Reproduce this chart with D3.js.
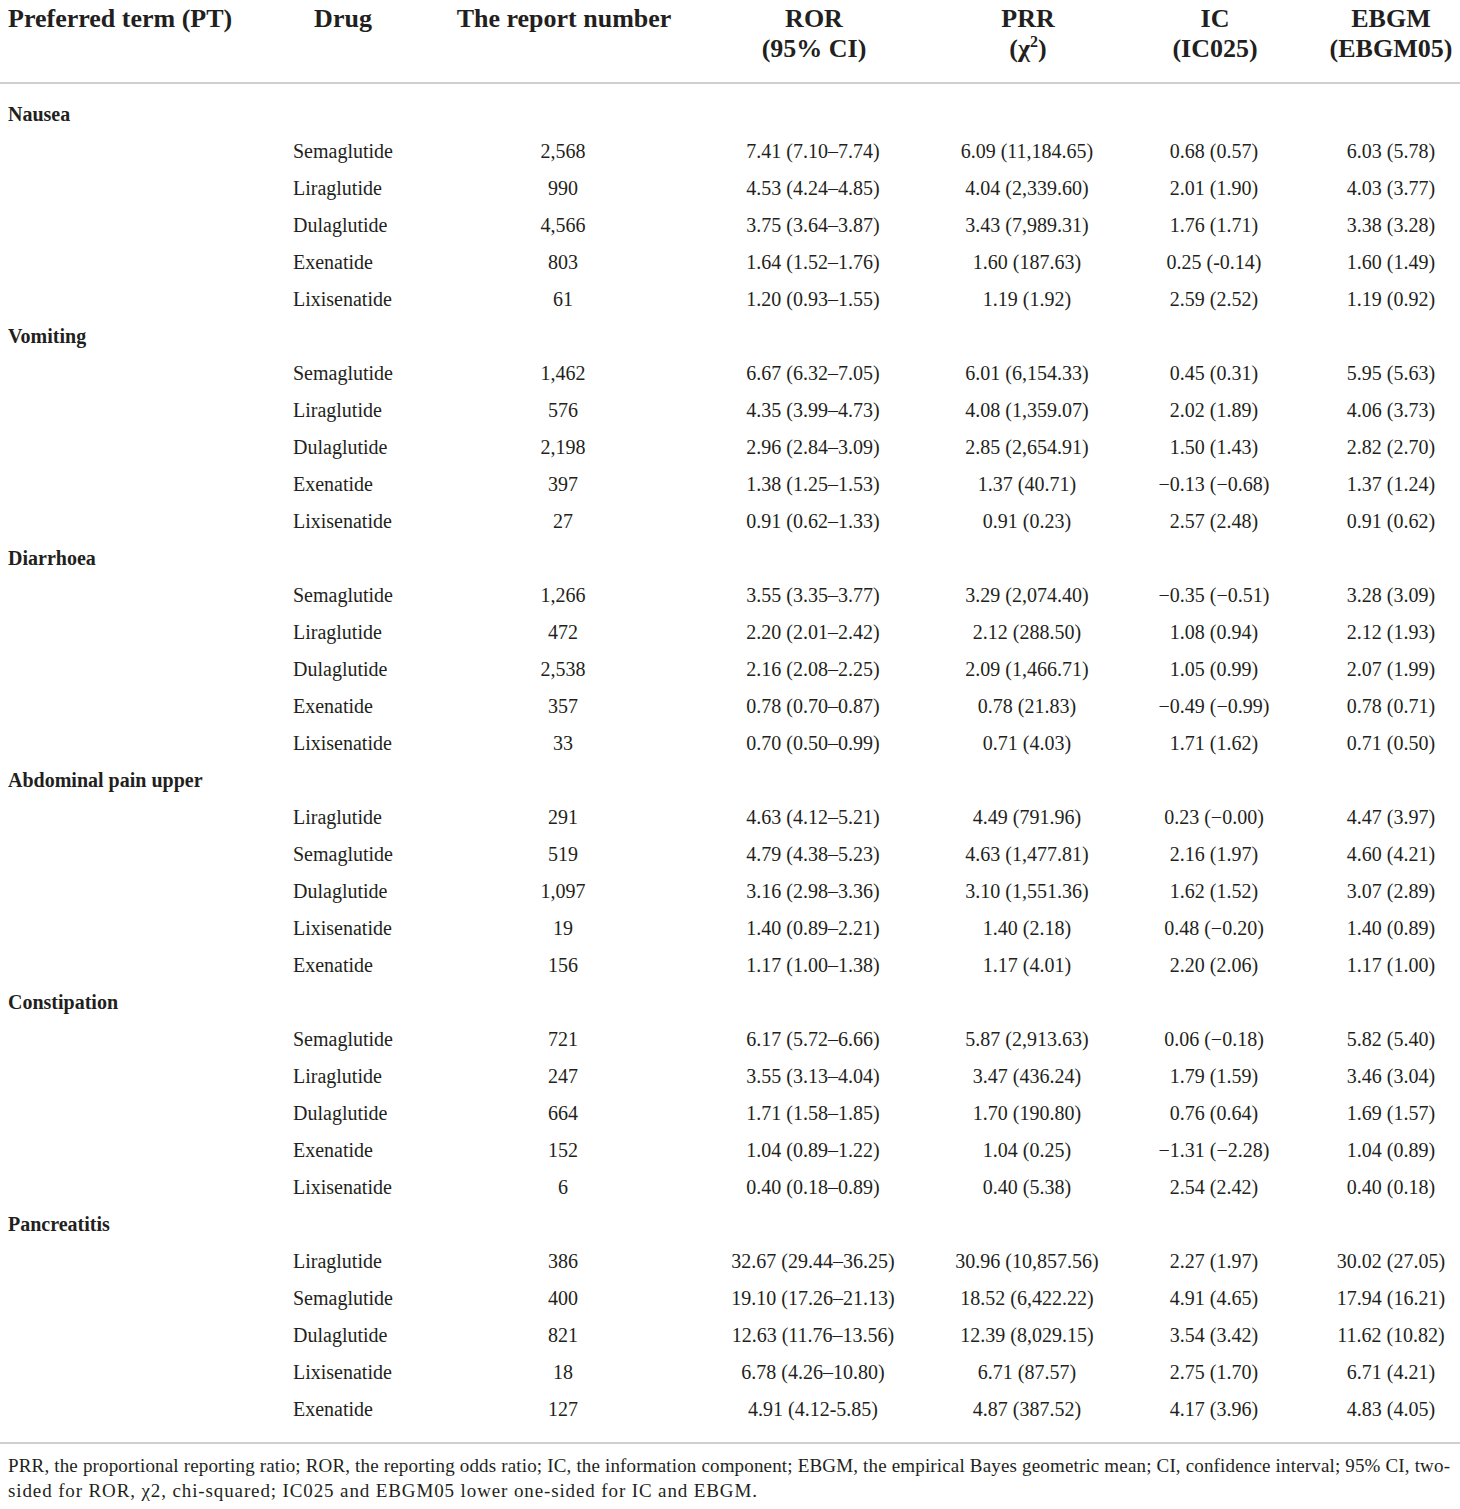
<!DOCTYPE html>
<html><head><meta charset="utf-8">
<script src="https://cdn.jsdelivr.net/npm/d3@7"></script>
<style>body{margin:0;background:#fff}svg{display:block}</style>
</head><body>
<svg id="t" width="1460" height="1509"></svg>
<script>
const headers = [
  ["Preferred term (PT)"], ["Drug"], ["The report number"],
  ["ROR", "(95% CI)"], ["PRR", "(χ2)"], ["IC", "(IC025)"], ["EBGM", "(EBGM05)"]
];
const terms = ["Nausea", "Vomiting", "Diarrhoea", "Abdominal pain upper", "Constipation", "Pancreatitis"];
const drugs = [
  ["Semaglutide","Liraglutide","Dulaglutide","Exenatide","Lixisenatide"],
  ["Semaglutide","Liraglutide","Dulaglutide","Exenatide","Lixisenatide"],
  ["Semaglutide","Liraglutide","Dulaglutide","Exenatide","Lixisenatide"],
  ["Liraglutide","Semaglutide","Dulaglutide","Lixisenatide","Exenatide"],
  ["Semaglutide","Liraglutide","Dulaglutide","Exenatide","Lixisenatide"],
  ["Liraglutide","Semaglutide","Dulaglutide","Lixisenatide","Exenatide"]
];
const reports = [
  ["2,568","990","4,566","803","61"],
  ["1,462","576","2,198","397","27"],
  ["1,266","472","2,538","357","33"],
  ["291","519","1,097","19","156"],
  ["721","247","664","152","6"],
  ["386","400","821","18","127"]
];
const ror = [
  ["7.41 (7.10–7.74)","4.53 (4.24–4.85)","3.75 (3.64–3.87)","1.64 (1.52–1.76)","1.20 (0.93–1.55)"],
  ["6.67 (6.32–7.05)","4.35 (3.99–4.73)","2.96 (2.84–3.09)","1.38 (1.25–1.53)","0.91 (0.62–1.33)"],
  ["3.55 (3.35–3.77)","2.20 (2.01–2.42)","2.16 (2.08–2.25)","0.78 (0.70–0.87)","0.70 (0.50–0.99)"],
  ["4.63 (4.12–5.21)","4.79 (4.38–5.23)","3.16 (2.98–3.36)","1.40 (0.89–2.21)","1.17 (1.00–1.38)"],
  ["6.17 (5.72–6.66)","3.55 (3.13–4.04)","1.71 (1.58–1.85)","1.04 (0.89–1.22)","0.40 (0.18–0.89)"],
  ["32.67 (29.44–36.25)","19.10 (17.26–21.13)","12.63 (11.76–13.56)","6.78 (4.26–10.80)","4.91 (4.12-5.85)"]
];
const prr = [
  ["6.09 (11,184.65)","4.04 (2,339.60)","3.43 (7,989.31)","1.60 (187.63)","1.19 (1.92)"],
  ["6.01 (6,154.33)","4.08 (1,359.07)","2.85 (2,654.91)","1.37 (40.71)","0.91 (0.23)"],
  ["3.29 (2,074.40)","2.12 (288.50)","2.09 (1,466.71)","0.78 (21.83)","0.71 (4.03)"],
  ["4.49 (791.96)","4.63 (1,477.81)","3.10 (1,551.36)","1.40 (2.18)","1.17 (4.01)"],
  ["5.87 (2,913.63)","3.47 (436.24)","1.70 (190.80)","1.04 (0.25)","0.40 (5.38)"],
  ["30.96 (10,857.56)","18.52 (6,422.22)","12.39 (8,029.15)","6.71 (87.57)","4.87 (387.52)"]
];
const ic = [
  ["0.68 (0.57)","2.01 (1.90)","1.76 (1.71)","0.25 (-0.14)","2.59 (2.52)"],
  ["0.45 (0.31)","2.02 (1.89)","1.50 (1.43)","−0.13 (−0.68)","2.57 (2.48)"],
  ["−0.35 (−0.51)","1.08 (0.94)","1.05 (0.99)","−0.49 (−0.99)","1.71 (1.62)"],
  ["0.23 (−0.00)","2.16 (1.97)","1.62 (1.52)","0.48 (−0.20)","2.20 (2.06)"],
  ["0.06 (−0.18)","1.79 (1.59)","0.76 (0.64)","−1.31 (−2.28)","2.54 (2.42)"],
  ["2.27 (1.97)","4.91 (4.65)","3.54 (3.42)","2.75 (1.70)","4.17 (3.96)"]
];
const ebgm = [
  ["6.03 (5.78)","4.03 (3.77)","3.38 (3.28)","1.60 (1.49)","1.19 (0.92)"],
  ["5.95 (5.63)","4.06 (3.73)","2.82 (2.70)","1.37 (1.24)","0.91 (0.62)"],
  ["3.28 (3.09)","2.12 (1.93)","2.07 (1.99)","0.78 (0.71)","0.71 (0.50)"],
  ["4.47 (3.97)","4.60 (4.21)","3.07 (2.89)","1.40 (0.89)","1.17 (1.00)"],
  ["5.82 (5.40)","3.46 (3.04)","1.69 (1.57)","1.04 (0.89)","0.40 (0.18)"],
  ["30.02 (27.05)","17.94 (16.21)","11.62 (10.82)","6.71 (4.21)","4.83 (4.05)"]
];
const footnote = [
  "PRR, the proportional reporting ratio; ROR, the reporting odds ratio; IC, the information component; EBGM, the empirical Bayes geometric mean; CI, confidence interval; 95% CI, two-",
  "sided for ROR, χ2, chi-squared; IC025 and EBGM05 lower one-sided for IC and EBGM."
];

// ---- layout ----
const svg = d3.select("#t");
const font = "'Liberation Serif', 'Times New Roman', serif";
const ink = "#231f20";
const rule = "#cfcfcf";

// column scales
const colKeys = ["pt","drug","rep","ror","prr","ic","ebgm"];
const headX = d3.scaleOrdinal().domain(colKeys).range([8, 343, 564, 814, 1028, 1215, 1391]);
const headAnchor = d3.scaleOrdinal().domain(colKeys).range(["start","middle","middle","middle","middle","middle","middle"]);
const bodyX = d3.scaleOrdinal().domain(colKeys).range([8, 293, 563, 813, 1027, 1214, 1391]);
const bodyAnchor = d3.scaleOrdinal().domain(colKeys).range(["start","start","middle","middle","middle","middle","middle"]);

// build flat row list
const rows = [];
terms.forEach((t, g) => {
  rows.push({type: "group", term: t});
  drugs[g].forEach((d, i) => rows.push({type: "item", drug: d, rep: reports[g][i], ror: ror[g][i], prr: prr[g][i], ic: ic[g][i], ebgm: ebgm[g][i]}));
});
const y = d3.scaleLinear().domain([0, rows.length - 1]).range([121, 121 + (rows.length - 1) * 37]);

// header
const hy = d3.scaleLinear().domain([0, 1]).range([27, 57]);
const hg = svg.append("g").attr("font-family", font).attr("font-weight", "bold").attr("font-size", 26).attr("fill", ink);
headers.forEach((lines, c) => {
  lines.forEach((ln, li) => {
    const tx = hg.append("text").attr("x", headX(colKeys[c])).attr("y", hy(li)).attr("text-anchor", headAnchor(colKeys[c]));
    if (ln === "(χ2)") {
      tx.append("tspan").text("(χ");
      tx.append("tspan").attr("font-size", 16).attr("dy", -10).text("2");
      tx.append("tspan").attr("dy", 10).text(")");
    } else tx.text(ln);
  });
});

svg.append("line").attr("x1", 0).attr("x2", 1460).attr("y1", 83).attr("y2", 83).attr("stroke", rule).attr("stroke-width", 2);

// body
const bg = svg.append("g").attr("font-family", font).attr("fill", ink);
rows.forEach((r, i) => {
  if (r.type === "group") {
    bg.append("text").attr("x", bodyX("pt")).attr("y", y(i)).attr("font-weight", "bold").attr("font-size", 20).text(r.term);
  } else {
    ["drug","rep","ror","prr","ic","ebgm"].forEach(k => {
      bg.append("text").attr("x", bodyX(k)).attr("y", y(i)).attr("text-anchor", bodyAnchor(k)).attr("font-size", 20).text(r[k]);
    });
  }
});

svg.append("line").attr("x1", 0).attr("x2", 1460).attr("y1", 1443).attr("y2", 1443).attr("stroke", rule).attr("stroke-width", 2);

// footnote
const fy = d3.scaleLinear().domain([0, 1]).range([1472, 1497]);
const fLen = [1442, 749];
const fg = svg.append("g").attr("font-family", font).attr("font-size", 19).attr("fill", ink);
footnote.forEach((ln, i) => {
  fg.append("text").attr("x", 8).attr("y", fy(i)).attr("textLength", fLen[i]).attr("lengthAdjust", "spacing").text(ln);
});
</script>
</body></html>
